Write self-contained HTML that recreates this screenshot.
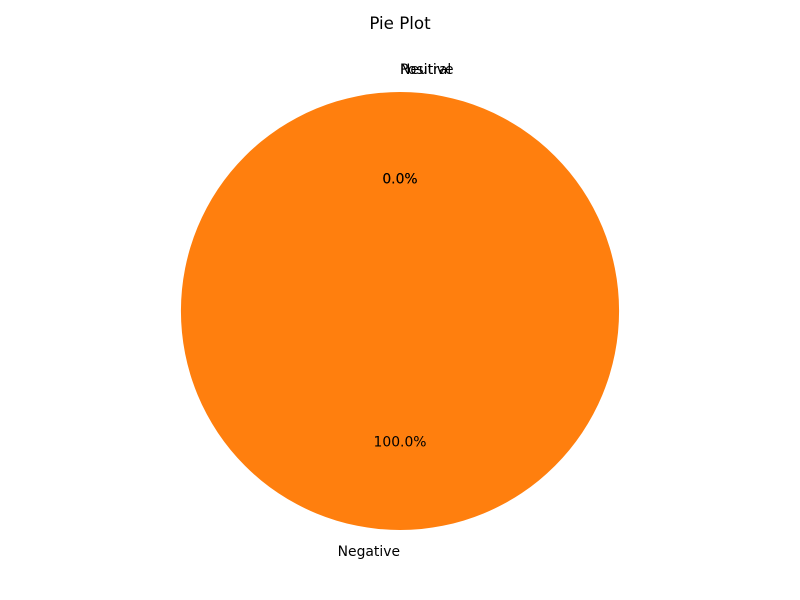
<!DOCTYPE html>
<html><head><meta charset="utf-8"><style>
body{margin:0;background:#fff;}
svg{display:block;font-family:"DejaVu Sans","Liberation Sans",sans-serif;}
</style></head><body>
<svg id="chart" width="800" height="600">
<rect width="800" height="600" fill="#fff"/>
<text x="400" y="29" font-size="16.7" text-anchor="middle" fill="#000">Pie Plot</text>
<g id="slices"></g><g id="labels"></g>
</svg>
<script>
const categories = ["Positive", "Neutral", "Negative"];
const values = [0, 0, 1];
const colors = ["#1f77b4", "#ff7f0e", "#ff7f0e"];
const cx = 400, cy = 311, r = 219, startAngle = 90;
const ns = "http://www.w3.org/2000/svg";
const gS = document.getElementById("slices"), gL = document.getElementById("labels");
const total = values.reduce((a, b) => a + b, 0);
function pt(deg, rad) { const a = deg * Math.PI / 180; return [cx + rad * Math.cos(a), cy - rad * Math.sin(a)]; }
let ang = startAngle;
categories.forEach((c, i) => {
  const frac = values[i] / total, sweep = frac * 360, a1 = ang + sweep, mid = ang + sweep / 2;
  if (frac > 0) {
    let d;
    if (frac >= 0.9999) {
      const p0 = pt(ang, r), p1 = pt(ang + 180, r);
      d = `M${p0[0]},${p0[1]} A${r},${r} 0 1 0 ${p1[0]},${p1[1]} A${r},${r} 0 1 0 ${p0[0]},${p0[1]} Z`;
    } else {
      const p0 = pt(ang, r), p1 = pt(a1, r);
      d = `M${cx},${cy} L${p0[0]},${p0[1]} A${r},${r} 0 ${sweep > 180 ? 1 : 0} 0 ${p1[0]},${p1[1]} Z`;
    }
    const p = document.createElementNS(ns, "path");
    p.setAttribute("d", d); p.setAttribute("fill", colors[i]);
    
    
    gS.appendChild(p);
  }
  const lp = pt(mid, r * 1.1), xr = Math.cos(mid * Math.PI / 180);
  const t = document.createElementNS(ns, "text");
  t.setAttribute("x", lp[0]); t.setAttribute("y", lp[1] + 4);
  t.setAttribute("font-size", "13.9");
  t.setAttribute("text-anchor", xr >= 0 ? "start" : "end");
  t.textContent = c;
  
  
  gL.appendChild(t);
  const pp = pt(mid, r * 0.6);
  const q = document.createElementNS(ns, "text");
  q.setAttribute("x", pp[0]); q.setAttribute("y", pp[1] + 4);
  q.setAttribute("font-size", "13.9"); q.setAttribute("text-anchor", "middle");
  q.textContent = (frac * 100).toFixed(1) + "%";
  
  
  gL.appendChild(q);
  ang = a1;
});
</script>
</body></html>
